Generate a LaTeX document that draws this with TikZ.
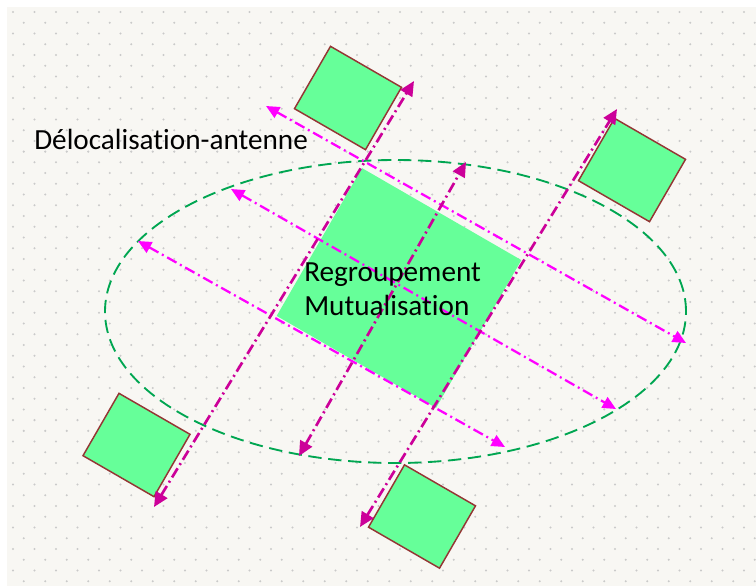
\documentclass[tikz,border=0pt]{standalone}
\usepackage{fontspec}
\setmainfont[Ligatures=NoCommon]{Carlito}
\usepackage{tikz}
\usetikzlibrary{arrows.meta}
\usetikzlibrary{shapes.geometric}

\definecolor{paper}{HTML}{F8F7F3}
\definecolor{dotgray}{HTML}{CACACA}
\definecolor{boxgreen}{HTML}{66FF99}
\definecolor{boxbrown}{HTML}{943634}
\definecolor{zonegreen}{HTML}{00A651}
\definecolor{linkdark}{HTML}{CC0099}
\definecolor{linklight}{HTML}{FF00FF}

\begin{document}
\begin{tikzpicture}
    [x=0.75pt, y=-0.75pt,
    site/.style={rectangle, draw=boxbrown, fill=boxgreen, line width=1.1pt, rotate=-30,
      minimum width=61.5pt, minimum height=54pt, inner sep=0pt},
    hub/.style={rectangle, fill=boxgreen, rotate=-30,
      minimum width=138pt, minimum height=128pt, inner sep=0pt},
    zone/.style={ellipse, draw=zonegreen, line width=1.4pt, dash pattern=on 10pt off 5pt,
      minimum width=435.75pt, minimum height=227.25pt, inner sep=0pt},
    relink/.style={draw=linkdark, line width=2pt,
      dash pattern=on 8pt off 3pt on 1.5pt off 3pt,
      {Triangle[length=11pt,width=10pt]}-{Triangle[length=11pt,width=10pt]}},
    spread/.style={draw=linklight, line width=1.7pt,
      dash pattern=on 8pt off 3pt on 1.5pt off 3pt,
      {Triangle[length=10pt,width=9pt]}-{Triangle[length=10pt,width=9pt]}},
    txt/.style={font=\fontsize{21.9}{25.5}\selectfont, inner sep=0pt}]
  \useasboundingbox (0,0) rectangle (756,586);
  \fill[paper] (7,7) rectangle (756,586);
  % dotted paper
  \foreach \r in {0,...,53} {
    \pgfmathsetmacro{\dy}{12+10.74*\r}
    \pgfmathsetmacro{\dx}{13+10.75*mod(\r,2)}
    \foreach \c in {0,...,34}
      \fill[dotgray] (\dx+21.5*\c,\dy) circle (0.85pt);
  }

  \node [hub] (hub) at (399,288) {};
  \node [zone] (zone) at (395.5,311.5) {};

  \node [site] (north) at (348,98) {};
  \node [site] (east) at (632,170) {};
  \node [site] (west) at (136.5,445) {};
  \node [site] (south) at (422,516.5) {};

  \coordinate (d1a) at (154,507);
  \coordinate (d1b) at (414,81);
  \coordinate (d2a) at (299,456);
  \coordinate (d2b) at (466,162);
  \coordinate (d3a) at (360,527);
  \coordinate (d3b) at (617,109);
  \coordinate (l1a) at (266,106);
  \coordinate (l1b) at (686,343);
  \coordinate (l2a) at (231,189);
  \coordinate (l2b) at (616,409);
  \coordinate (l3a) at (138,241);
  \coordinate (l3b) at (505,447);

  \draw [spread] (l1a) -- (l1b);
  \draw [spread] (l2a) -- (l2b);
  \draw [spread] (l3a) -- (l3b);
  \draw [relink] (d1a) -- (d1b);
  \draw [relink] (d2a) -- (d2b);
  \draw [relink] (d3a) -- (d3b);

  \node [txt, anchor=base west] (deloc) at (34,149) {Délocalisation-antenne};
  \node [txt, anchor=north west, align=left] (mutual) at (304,262)
    {Regroupement\\Mutualisation};
\end{tikzpicture}
\end{document}
